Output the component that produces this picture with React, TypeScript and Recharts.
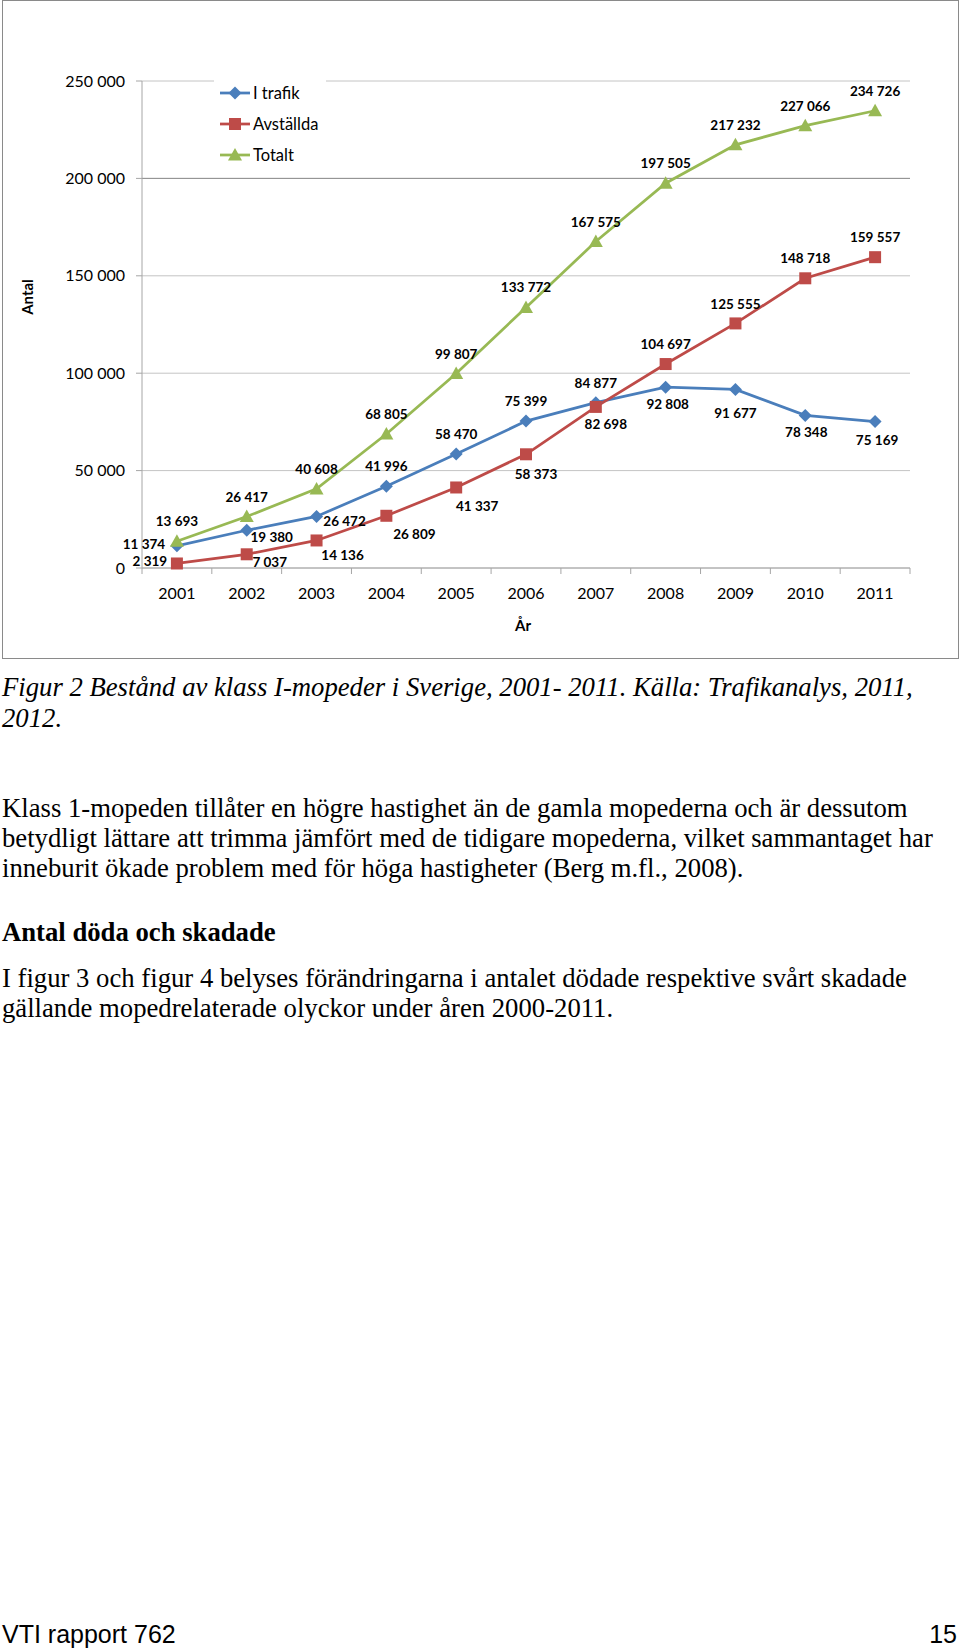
import React from 'react';
import { LineChart, Line, XAxis, YAxis, CartesianGrid, Legend, ReferenceLine } from 'recharts';

const years = ['2001', '2002', '2003', '2004', '2005', '2006', '2007', '2008', '2009', '2010', '2011'];
const iTrafik = [11374, 19380, 26472, 41996, 58470, 75399, 84877, 92808, 91677, 78348, 75169];
const avstallda = [2319, 7037, 14136, 26809, 41337, 58373, 82698, 104697, 125555, 148718, 159557];
const totalt = [13693, 26417, 40608, 68805, 99807, 133772, 167575, 197505, 217232, 227066, 234726];
const yTicks = [0, 50000, 100000, 150000, 200000, 250000];
const seriesNames = ['I trafik', 'Avställda', 'Totalt'];

// where each data label sits relative to its point (label centre, px)
const trafikLabelPos = [[-33, -2], [25, 7], [28, 5], [0, -20], [0, -20], [0, -20], [0, -20], [2, 17], [0, 24], [1, 17], [2, 18]];
const avstLabelPos = [[-27, -2], [23, 8], [26, 15], [28, 18], [21, 19], [10, 20], [10, 17], [0, -20], [0, -19], [0, -20], [0, -20]];
const totLabelPos = years.map(() => [0, -20]);

const data = years.map((year, i) => ({
  year,
  trafik: iTrafik[i],
  avst: avstallda[i],
  tot: totalt[i],
}));

const BLUE = '#4a7ebb';
const RED = '#be4b48';
const GREEN = '#98b954';
const AXIS = '#a6a6a6';
const GRID = '#c4c4c4';

const CHART_FONT = 'Lato, "Open Sans", sans-serif';
const PLOT_LEFT = 142;
const PLOT_RIGHT = 910;
const HALF_BAND = (PLOT_RIGHT - PLOT_LEFT) / years.length / 2;

const fmt = (v: number) => String(v).replace(/\B(?=(\d{3})+(?!\d))/g, ' ');

const Diamond = ({ cx, cy, color }: any) => (
  <polygon points={`${cx},${cy - 6.5} ${cx + 6.5},${cy} ${cx},${cy + 6.5} ${cx - 6.5},${cy}`} fill={color} />
);
const Square = ({ cx, cy, color }: any) => (
  <rect x={cx - 6} y={cy - 6} width={12} height={12} fill={color} />
);
const Triangle = ({ cx, cy, color }: any) => (
  <polygon points={`${cx},${cy - 7} ${cx + 7},${cy + 5.5} ${cx - 7},${cy + 5.5}`} fill={color} />
);

const legendItems = [
  { name: seriesNames[0], color: BLUE, Shape: Diamond },
  { name: seriesNames[1], color: RED, Shape: Square },
  { name: seriesNames[2], color: GREEN, Shape: Triangle },
];

const makeDot = (Shape: any, color: string, name: string) => (props: any) => {
  const { cx, cy, index } = props;
  if (cx == null || cy == null) return <g key={`${name}-${index}`} />;
  return <Shape key={`${name}-${index}`} cx={cx} cy={cy} color={color} />;
};

const makeLabel = (pos: number[][], name: string) => (props: any) => {
  const { x, y, value, index } = props;
  const [dx, dy] = pos[index] || [0, -20];
  return (
    <text
      key={`${name}-lbl-${index}`}
      x={x + dx}
      y={y + dy}
      textAnchor="middle"
      dominantBaseline="central"
      fontFamily={CHART_FONT}
      fontWeight={700}
      fontSize={13.5}
      fill="#000"
    >
      {fmt(value)}
    </text>
  );
};

const YearTick = (props: any) => {
  const { x, y, payload, index } = props;
  return (
    <g>
      <line x1={x - HALF_BAND} x2={x - HALF_BAND} y1={y} y2={y + 6} stroke={AXIS} />
      {index === years.length - 1 && (
        <line x1={x + HALF_BAND} x2={x + HALF_BAND} y1={y} y2={y + 6} stroke={AXIS} />
      )}
      <text
        x={x}
        y={y + 24}
        textAnchor="middle"
        dominantBaseline="central"
        fontFamily={CHART_FONT}
        fontSize={16}
        fill="#000"
      >
        {payload.value}
      </text>
    </g>
  );
};

const renderLegend = () => (
  <div style={{ width: 112, height: 92, background: '#fff', position: 'relative', fontFamily: CHART_FONT, fontSize: 16.5 }}>
    {legendItems.map(({ name, color, Shape }, i) => (
      <div
        key={name}
        style={{ position: 'absolute', left: 6, top: 7 + i * 31.2, height: 20, display: 'flex', alignItems: 'center', whiteSpace: 'nowrap' }}
      >
        <svg width={30} height={20} style={{ display: 'block' }}>
          <line x1={0} x2={30} y1={10} y2={10} stroke={color} strokeWidth={2.75} />
          <Shape cx={15} cy={10} color={color} />
        </svg>
        <span style={{ marginLeft: 3, color: '#000' }}>{name}</span>
      </div>
    ))}
  </div>
);

const serif = '"Liberation Serif", "Times New Roman", serif';

const TextLine = ({ top, children, style }: any) => (
  <div style={{ position: 'absolute', left: 2, top, whiteSpace: 'nowrap', lineHeight: 1, color: '#000', fontFamily: serif, fontSize: 26.7, ...style }}>
    {children}
  </div>
);

const App = () => {
  return (
    <div style={{ position: 'absolute', left: 0, top: 0, width: 960, height: 1649, background: '#fff', overflow: 'hidden' }}>
      <div style={{ position: 'absolute', left: 0, top: 0 }}>
        <LineChart
          width={960}
          height={660}
          data={data}
          margin={{ top: 81, right: 50, bottom: 62, left: 82 }}
        >
          <CartesianGrid vertical={false} stroke={GRID} />
          <ReferenceLine y={200000} stroke="#8e8e8e" />
          <XAxis
            dataKey="year"
            interval={0}
            padding={{ left: HALF_BAND, right: HALF_BAND }}
            tickLine={false}
            tickSize={0}
            tickMargin={0}
            height={30}
            axisLine={{ stroke: AXIS }}
            tick={<YearTick />}
          />
          <YAxis
            width={60}
            domain={[0, 250000]}
            ticks={yTicks}
            interval={0}
            tickSize={6}
            tickMargin={11}
            tickLine={{ stroke: AXIS }}
            axisLine={{ stroke: AXIS }}
            tickFormatter={fmt}
            tick={{ fill: '#000', fontSize: 16, fontFamily: CHART_FONT }}
          />
          <Legend
            layout="vertical"
            align="center"
            verticalAlign="middle"
            content={renderLegend}
            wrapperStyle={{ left: 214, top: 76, width: 112, height: 92 }}
          />
          <Line
            type="linear"
            dataKey="trafik"
            name={seriesNames[0]}
            stroke={BLUE}
            strokeWidth={2.75}
            dot={makeDot(Diamond, BLUE, 'trafik')}
            label={makeLabel(trafikLabelPos, 'trafik')}
            isAnimationActive={false}
          />
          <Line
            type="linear"
            dataKey="avst"
            name={seriesNames[1]}
            stroke={RED}
            strokeWidth={2.75}
            dot={makeDot(Square, RED, 'avst')}
            label={makeLabel(avstLabelPos, 'avst')}
            isAnimationActive={false}
          />
          <Line
            type="linear"
            dataKey="tot"
            name={seriesNames[2]}
            stroke={GREEN}
            strokeWidth={2.75}
            dot={makeDot(Triangle, GREEN, 'tot')}
            label={makeLabel(totLabelPos, 'tot')}
            isAnimationActive={false}
          />
        </LineChart>
      </div>

      {/* axis titles */}
      <div style={{ position: 'absolute', left: 27, top: 297, transform: 'translate(-50%, -50%) rotate(-90deg)', fontFamily: CHART_FONT, fontWeight: 700, fontSize: 15, whiteSpace: 'nowrap' }}>
        Antal
      </div>
      <div style={{ position: 'absolute', left: 523, top: 625, transform: 'translate(-50%, -50%)', fontFamily: CHART_FONT, fontWeight: 700, fontSize: 15, whiteSpace: 'nowrap' }}>
        År
      </div>

      {/* chart frame */}
      <div style={{ position: 'absolute', left: 2, top: 0, width: 955, height: 657, border: '1px solid #8a8a8a', pointerEvents: 'none' }} />

      <TextLine top={673.6} style={{ fontStyle: 'italic' }}>
        Figur 2 Bestånd av klass I-mopeder i Sverige, 2001- 2011. Källa: Trafikanalys, 2011,
      </TextLine>
      <TextLine top={704.6} style={{ fontStyle: 'italic' }}>
        2012.
      </TextLine>

      <TextLine top={794.6}>Klass 1-mopeden tillåter en högre hastighet än de gamla mopederna och är dessutom</TextLine>
      <TextLine top={824.6}>betydligt lättare att trimma jämfört med de tidigare mopederna, vilket sammantaget har</TextLine>
      <TextLine top={854.6}>inneburit ökade problem med för höga hastigheter (Berg m.fl., 2008).</TextLine>

      <TextLine top={918.6} style={{ fontWeight: 700 }}>Antal döda och skadade</TextLine>

      <TextLine top={964.6}>I figur 3 och figur 4 belyses förändringarna i antalet dödade respektive svårt skadade</TextLine>
      <TextLine top={994.6}>gällande mopedrelaterade olyckor under åren 2000-2011.</TextLine>

      <div style={{ position: 'absolute', left: 2, top: 1621.8, lineHeight: 1, fontFamily: '"Liberation Sans", Arial, sans-serif', fontSize: 25, whiteSpace: 'nowrap' }}>
        VTI rapport 762
      </div>
      <div style={{ position: 'absolute', right: 3, top: 1621.8, lineHeight: 1, fontFamily: '"Liberation Sans", Arial, sans-serif', fontSize: 25, whiteSpace: 'nowrap' }}>
        15
      </div>
    </div>
  );
};

export default App;
